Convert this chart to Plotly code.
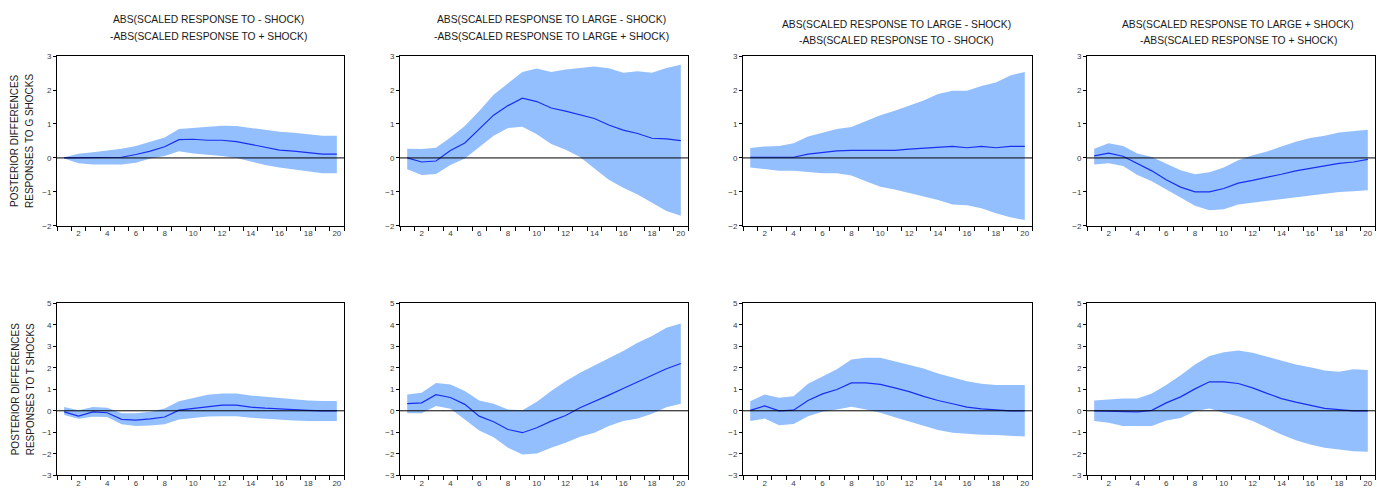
import plotly.graph_objects as go

# Horizons 1..20
periods = list(range(1, 21))

# ---- Row 1: responses to G shocks ----
g_mid_1 = [0.0, 0.0, 0.01, 0.02, 0.02, 0.10, 0.20, 0.33, 0.54, 0.55, 0.52, 0.52, 0.48, 0.40, 0.32, 0.23, 0.20, 0.15, 0.11, 0.11]
g_up_1 = [0.02, 0.12, 0.17, 0.22, 0.27, 0.35, 0.48, 0.60, 0.85, 0.88, 0.92, 0.95, 0.94, 0.88, 0.82, 0.77, 0.74, 0.69, 0.65, 0.65]
g_lo_1 = [-0.02, -0.16, -0.19, -0.18, -0.19, -0.14, -0.02, 0.06, 0.20, 0.13, 0.10, 0.06, 0.0, -0.10, -0.21, -0.28, -0.33, -0.39, -0.45, -0.45]

g_mid_2 = [0.0, -0.12, -0.09, 0.22, 0.44, 0.85, 1.26, 1.54, 1.76, 1.66, 1.47, 1.38, 1.28, 1.16, 0.97, 0.82, 0.72, 0.58, 0.56, 0.51]
g_up_2 = [0.27, 0.26, 0.30, 0.60, 0.94, 1.38, 1.86, 2.19, 2.53, 2.63, 2.53, 2.60, 2.65, 2.69, 2.64, 2.51, 2.55, 2.51, 2.65, 2.74]
g_lo_2 = [-0.33, -0.50, -0.47, -0.21, -0.02, 0.32, 0.65, 0.88, 0.92, 0.70, 0.41, 0.24, 0.03, -0.31, -0.64, -0.88, -1.08, -1.32, -1.56, -1.70]

g_mid_3 = [0.02, 0.02, 0.0, 0.02, 0.11, 0.16, 0.21, 0.22, 0.22, 0.22, 0.22, 0.26, 0.29, 0.32, 0.34, 0.30, 0.34, 0.30, 0.34, 0.34]
g_up_3 = [0.29, 0.34, 0.35, 0.43, 0.63, 0.75, 0.85, 0.91, 1.09, 1.26, 1.39, 1.55, 1.69, 1.88, 1.98, 1.98, 2.12, 2.22, 2.43, 2.53]
g_lo_3 = [-0.28, -0.34, -0.38, -0.38, -0.42, -0.45, -0.45, -0.52, -0.69, -0.85, -0.93, -1.03, -1.12, -1.24, -1.37, -1.39, -1.48, -1.63, -1.75, -1.83]

g_mid_4 = [0.06, 0.14, 0.05, -0.16, -0.38, -0.64, -0.86, -1.0, -1.0, -0.90, -0.74, -0.66, -0.58, -0.48, -0.38, -0.31, -0.23, -0.16, -0.12, -0.04]
g_up_4 = [0.27, 0.43, 0.35, 0.13, 0.03, -0.16, -0.36, -0.48, -0.42, -0.28, -0.07, 0.08, 0.19, 0.34, 0.48, 0.59, 0.65, 0.75, 0.80, 0.83]
g_lo_4 = [-0.19, -0.16, -0.24, -0.50, -0.69, -0.93, -1.17, -1.41, -1.54, -1.51, -1.37, -1.32, -1.25, -1.22, -1.17, -1.10, -1.05, -1.0, -0.98, -0.95]

# ---- Row 2: responses to T shocks ----
t_mid_1 = [-0.05, -0.25, -0.05, -0.09, -0.40, -0.43, -0.38, -0.29, 0.03, 0.10, 0.18, 0.26, 0.26, 0.17, 0.12, 0.08, 0.03, 0.02, 0.0, 0.0]
t_up_1 = [0.18, 0.02, 0.18, 0.14, -0.12, -0.12, -0.05, 0.11, 0.45, 0.60, 0.75, 0.80, 0.80, 0.71, 0.65, 0.57, 0.52, 0.48, 0.46, 0.46]
t_lo_1 = [-0.20, -0.37, -0.28, -0.29, -0.63, -0.71, -0.68, -0.63, -0.40, -0.32, -0.26, -0.25, -0.25, -0.32, -0.37, -0.42, -0.45, -0.48, -0.48, -0.48]

t_mid_2 = [0.33, 0.37, 0.75, 0.62, 0.30, -0.25, -0.51, -0.87, -1.02, -0.79, -0.48, -0.22, 0.14, 0.42, 0.73, 1.04, 1.34, 1.65, 1.96, 2.20]
t_up_2 = [0.76, 0.84, 1.30, 1.23, 0.92, 0.48, 0.33, 0.06, 0.03, 0.42, 0.92, 1.38, 1.77, 2.11, 2.47, 2.78, 3.17, 3.48, 3.87, 4.07]
t_lo_2 = [-0.12, -0.12, 0.22, 0.09, -0.40, -0.92, -1.23, -1.72, -2.03, -1.99, -1.72, -1.49, -1.21, -1.02, -0.71, -0.48, -0.36, -0.14, 0.17, 0.33]

t_mid_3 = [0.02, 0.23, 0.0, 0.03, 0.48, 0.79, 0.99, 1.30, 1.30, 1.23, 1.07, 0.89, 0.67, 0.48, 0.33, 0.17, 0.09, 0.03, 0.0, 0.0]
t_up_3 = [0.45, 0.76, 0.61, 0.68, 1.26, 1.61, 1.93, 2.39, 2.47, 2.47, 2.31, 2.16, 1.97, 1.74, 1.57, 1.38, 1.26, 1.20, 1.20, 1.20]
t_lo_3 = [-0.48, -0.36, -0.67, -0.61, -0.25, -0.05, 0.06, 0.19, 0.06, -0.09, -0.30, -0.51, -0.71, -0.90, -1.02, -1.07, -1.12, -1.13, -1.15, -1.20]

t_mid_4 = [0.0, -0.01, -0.05, -0.05, 0.02, 0.37, 0.65, 1.02, 1.35, 1.35, 1.27, 1.07, 0.81, 0.57, 0.40, 0.25, 0.11, 0.05, 0.0, 0.0]
t_up_4 = [0.48, 0.53, 0.57, 0.57, 0.81, 1.20, 1.65, 2.16, 2.55, 2.73, 2.81, 2.70, 2.52, 2.34, 2.16, 2.03, 1.88, 1.82, 1.93, 1.90]
t_lo_4 = [-0.48, -0.56, -0.71, -0.71, -0.71, -0.45, -0.33, -0.02, 0.11, -0.09, -0.25, -0.48, -0.79, -1.10, -1.37, -1.57, -1.72, -1.80, -1.88, -1.91]

# Column titles (two lines each)
col_titles = [
    ("ABS(SCALED RESPONSE TO - SHOCK)", "-ABS(SCALED RESPONSE TO + SHOCK)"),
    ("ABS(SCALED RESPONSE TO LARGE - SHOCK)", "-ABS(SCALED RESPONSE TO LARGE + SHOCK)"),
    ("ABS(SCALED RESPONSE TO LARGE - SHOCK)", "-ABS(SCALED RESPONSE TO - SHOCK)"),
    ("ABS(SCALED RESPONSE TO LARGE + SHOCK)", "-ABS(SCALED RESPONSE TO + SHOCK)"),
]
row_titles = [
    ("POSTERIOR DIFFERENCES", "RESPONSES TO G SHOCKS"),
    ("POSTERIOR DIFFERENCES", "RESPONSES TO T SHOCKS"),
]
x_tick_vals = [2, 4, 6, 8, 10, 12, 14, 16, 18, 20]
row1_y_ticks = [-2, -1, 0, 1, 2, 3]
row2_y_ticks = [-3, -2, -1, 0, 1, 2, 3, 4, 5]

panels = [
    (g_mid_1, g_up_1, g_lo_1), (g_mid_2, g_up_2, g_lo_2),
    (g_mid_3, g_up_3, g_lo_3), (g_mid_4, g_up_4, g_lo_4),
    (t_mid_1, t_up_1, t_lo_1), (t_mid_2, t_up_2, t_lo_2),
    (t_mid_3, t_up_3, t_lo_3), (t_mid_4, t_up_4, t_lo_4),
]

W, H = 1377, 492
# pixel boxes of the plotting areas: (left, right) per column, (top, bottom) per row
col_px = [(57, 344), (400, 688), (743, 1032), (1087, 1375)]
row_px = [(53, 226), (305, 480)]

FONT = "Liberation Sans, Arial, sans-serif"
BAND = "#94BFFF"
LINE = "#1A2EF0"

fig = go.Figure()
layout = dict(
    width=W, height=H, margin=dict(l=0, r=0, t=0, b=0),
    paper_bgcolor="white", plot_bgcolor="white", showlegend=False,
    font=dict(family=FONT, color="#222222"),
)
shapes, annotations = [], []

for i, (mid, up, lo) in enumerate(panels):
    r, c = divmod(i, 4)
    n = i + 1
    xa = "x" if n == 1 else f"x{n}"
    ya = "y" if n == 1 else f"y{n}"
    fig.add_trace(go.Scatter(x=periods, y=lo, xaxis=xa, yaxis=ya, mode="lines",
                             line=dict(width=0, color=BAND), hoverinfo="skip"))
    fig.add_trace(go.Scatter(x=periods, y=up, xaxis=xa, yaxis=ya, mode="lines",
                             line=dict(width=0, color=BAND), fill="tonexty",
                             fillcolor=BAND, hoverinfo="skip"))
    fig.add_trace(go.Scatter(x=periods, y=mid, xaxis=xa, yaxis=ya, mode="lines",
                             line=dict(width=1.2, color=LINE)))

    l, rt = col_px[c]
    t, b = row_px[r]
    yticks = row1_y_ticks if r == 0 else row2_y_ticks
    layout["xaxis" if n == 1 else f"xaxis{n}"] = dict(
        domain=[l / W, rt / W], anchor=ya, range=[0.5, 20.5],
        tickvals=x_tick_vals, ticks="", showgrid=False, zeroline=False,
        showline=True, mirror=True, linecolor="black", linewidth=1,
        tickfont=dict(size=8, color="#3a3a3a"),
        minor=dict(tickvals=[k + 0.5 for k in range(0, 21)], ticks="outside",
                   ticklen=4, tickcolor="black", showgrid=False),
    )
    layout["yaxis" if n == 1 else f"yaxis{n}"] = dict(
        domain=[1 - b / H, 1 - t / H], anchor=xa,
        range=[yticks[0], yticks[-1]], tickvals=yticks,
        ticks="outside", ticklen=3, tickcolor="black",
        showgrid=False, zeroline=False,
        showline=True, mirror=True, linecolor="black", linewidth=1,
        tickfont=dict(size=8, color="#3a3a3a"),
    )
    # zero reference line drawn over the band
    shapes.append(dict(type="line", xref=f"{xa} domain", yref=ya, x0=0, x1=1, y0=0, y1=0,
                       line=dict(color="black", width=1), layer="above"))

# column titles above the top row
title_y = [(16, 33), (16, 33), (21, 37), (21, 37)]
title_x = [208, 551, 896, 1238]
for c, (l1, l2) in enumerate(col_titles):
    for txt, ypx in zip((l1, l2), title_y[c]):
        annotations.append(dict(text=txt, xref="paper", yref="paper",
                                x=title_x[c] / W, y=1 - ypx / H, showarrow=False,
                                xanchor="center", yanchor="middle",
                                font=dict(size=10.3, family=FONT, color="#1a1a1a")))

# rotated row titles at the left edge
for r, (l1, l2) in enumerate(row_titles):
    t, b = row_px[r]
    yc = 1 - (t + b) / 2 / H
    for txt, xpx in zip((l1, l2), (15, 30)):
        annotations.append(dict(text=txt, xref="paper", yref="paper",
                                x=xpx / W, y=yc, showarrow=False, textangle=-90,
                                xanchor="center", yanchor="middle",
                                font=dict(size=10, family=FONT, color="#1a1a1a")))

layout["shapes"] = shapes
layout["annotations"] = annotations
fig.update_layout(**layout)
fig.write_html("out.html")
